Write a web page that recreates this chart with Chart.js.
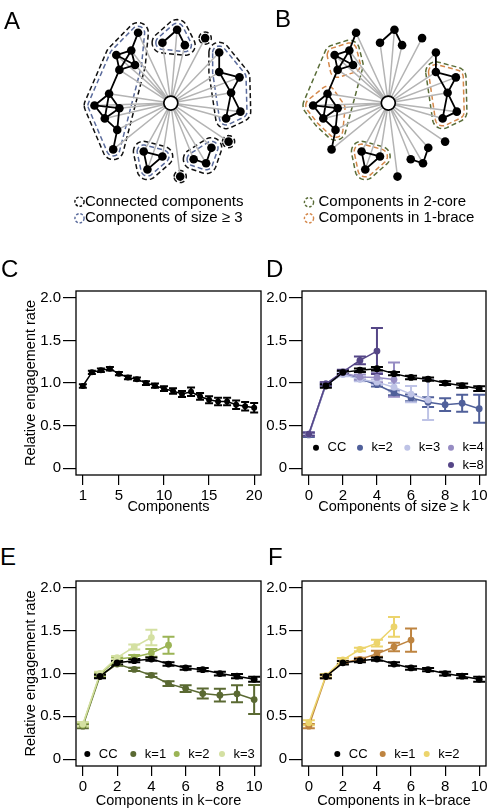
<!DOCTYPE html>
<html><head><meta charset="utf-8">
<script src="https://cdn.jsdelivr.net/npm/chart.js@4.4.1/dist/chart.umd.min.js"></script>
<style>
html,body{margin:0;padding:0;background:#fff;}
body{width:490px;height:810px;position:relative;overflow:hidden;font-family:"Liberation Sans",Arial,Helvetica,sans-serif;}
canvas{position:absolute;}
.lab{position:absolute;font-size:24px;line-height:24px;color:#000;}
</style></head><body>
<canvas id="cA" width="270" height="240" style="left:0;top:0"></canvas>
<canvas id="cB" width="220" height="240" style="left:270px;top:0"></canvas>
<canvas id="cC" width="265" height="245" style="left:0;top:280px"></canvas>
<canvas id="cD" width="240" height="245" style="left:250px;top:280px"></canvas>
<canvas id="cE" width="265" height="240" style="left:0;top:570px"></canvas>
<canvas id="cF" width="240" height="240" style="left:250px;top:570px"></canvas>
<div class="lab" style="left:4px;top:9px">A</div>
<div class="lab" style="left:275px;top:7px">B</div>
<div class="lab" style="left:1px;top:257px">C</div>
<div class="lab" style="left:266px;top:257px">D</div>
<div class="lab" style="left:0px;top:545px">E</div>
<div class="lab" style="left:268px;top:545px">F</div>
<script>
// ================= DATA =================
// Panels A/B: ego network layout (node positions relative to the ego node)
const nodeX = [-35,-42.3,-58.3,-38.3,-55,-66,-81.6,-55,-70.6,-57.3,-61.6, 6.7,-9,15, 36.7, 51.7,51.7,73.4,64.4,74.4,59, 61.7, 43.4,24.4,37.7, 10, -29,-9,-25];
const nodeY = [-75.7,-56.7,-51.7,-41,-35.7,-10,2.6,5.6,16.6,29,50, -79,-65,-62.4, -70, -54.4,-33.4,-27.7,-11,9.3,16.6, 41.6, 48.3,60.6,65, 79.3, 52.3,57.6,71.6];
const edgeFrom = [0,1,1,1,2,2,3,4,5,5,5,6,6,7,8,7,9, 11,11, 15,16,16,17,18,18,19, 22,23, 26,26,27];
const edgeTo   = [1,2,3,4,3,4,4,5,6,7,8,7,8,8,9,9,10, 12,13, 16,17,18,18,19,20,20, 24,24, 27,28,28];
const groupsConnected = [[0,1,2,3,4,5,6,7,8,9,10],[11,12,13],[14],[15,16,17,18,19,20],[21],[22,23,24],[25],[26,27,28]];
const groupsSize3 = [[0,1,2,3,4,5,6,7,8,9,10],[11,12,13],[15,16,17,18,19,20],[22,23,24],[26,27,28]];
const groups2core = [[1,2,3,4,5,6,7,8,9],[16,17,18,19,20],[26,27,28]];
const groups1brace = [[1,2,3,4],[5,6,7,8,9],[16,17,18,19,20],[26,27,28]];
const legendA = ['Connected components','Components of size \u2265 3'];
const legendB = ['Components in 2-core','Components in 1-brace'];

// Panel C
const compC = [1,2,3,4,5,6,7,8,9,10,11,12,13,14,15,16,17,18,19,20];
const rateC = [0.965,1.125,1.15,1.168,1.11,1.065,1.045,0.999,0.969,0.933,0.907,0.87,0.897,0.842,0.803,0.783,0.783,0.745,0.727,0.71];
const errC  = [0.02,0.02,0.02,0.02,0.02,0.02,0.02,0.022,0.025,0.028,0.032,0.035,0.05,0.04,0.04,0.045,0.045,0.05,0.05,0.055];
const ticksC = [1,5,10,15,20];

// Panels D-F
const compCC = [1,2,3,4,5,6,7,8,9,10];
const rateCC = [0.965,1.125,1.15,1.168,1.11,1.065,1.045,0.999,0.969,0.933];
const errCC  = [0.02,0.02,0.02,0.02,0.02,0.02,0.02,0.022,0.025,0.028];
const compK = [0,1,2,3,4,5,6,7,8,9,10];
// D: components of size >= k
const rateSize2 = [0.39,0.975,1.11,1.05,0.98,0.885,0.825,0.775,0.745,0.762,0.698];
const errSize2  = [0.025,0.02,0.02,0.02,0.02,0.028,0.04,0.058,0.075,0.1,0.165];
const rateSize3 = [0.40,0.99,1.10,1.045,1.01,0.95,0.87,0.80];
const errSize3  = [0.02,0.02,0.02,0.025,0.03,0.05,0.095,0.235];
const rateSize4 = [0.40,0.99,1.12,1.07,1.065,1.04];
const errSize4  = [0.02,0.02,0.02,0.03,0.055,0.2];
const rateSize8 = [0.40,0.99,1.13,1.265,1.375];
const errSize8  = [0.02,0.02,0.025,0.045,0.27];
// E: components in k-core
const rateCore1 = [0.385,0.97,1.11,1.048,0.979,0.882,0.824,0.766,0.747,0.763,0.696];
const errCore1  = [0.025,0.02,0.02,0.02,0.02,0.028,0.04,0.058,0.075,0.1,0.17];
const rateCore2 = [0.40,0.99,1.17,1.19,1.24,1.33];
const errCore2  = [0.02,0.02,0.02,0.025,0.045,0.1];
const rateCore3 = [0.41,1.0,1.185,1.31,1.42];
const errCore3  = [0.025,0.02,0.02,0.03,0.09];
// F: components in k-brace
const rateBrace1 = [0.385,0.965,1.13,1.165,1.23,1.31,1.39];
const errBrace1  = [0.025,0.02,0.02,0.02,0.035,0.05,0.135];
const rateBrace2 = [0.425,0.975,1.16,1.28,1.355,1.545];
const errBrace2  = [0.03,0.02,0.02,0.02,0.04,0.115];
const ticksK = [0,2,4,6,8,10];
const yTicks = [0,0.5,1,1.5,2];
const yTickLabels = ['0','0.5','1.0','1.5','2.0'];

// ================= STYLE / HELPERS =================
const FONT = '"Liberation Sans", Arial, Helvetica, sans-serif';
Chart.defaults.font.family = FONT;
Chart.defaults.color = '#000';

function paddedHull(ids, pad){
  const pts=[];
  ids.forEach(id=>{for(let k=0;k<48;k++){const t=k*Math.PI/24;pts.push([nodeX[id]+pad*Math.cos(t),nodeY[id]+pad*Math.sin(t)]);}});
  pts.sort((a,b)=>a[0]-b[0]||a[1]-b[1]);
  const cr=(o,a,b)=>(a[0]-o[0])*(b[1]-o[1])-(a[1]-o[1])*(b[0]-o[0]);
  const lo=[];for(const p of pts){while(lo.length>=2&&cr(lo[lo.length-2],lo[lo.length-1],p)<=0)lo.pop();lo.push(p);}
  const up=[];for(let i=pts.length-1;i>=0;i--){const p=pts[i];while(up.length>=2&&cr(up[up.length-2],up[up.length-1],p)<=0)up.pop();up.push(p);}
  up.pop();lo.pop();const h=lo.concat(up);h.push(h[0]);
  return h.map(p=>({x:p[0],y:p[1]}));
}
function contourSets(groups, color, pad, padSingle){
  return groups.map(g=>({data:paddedHull(g, g.length===1?padSingle:pad), showLine:true, borderColor:color,
    borderWidth:1.5, borderDash:[5,3], pointRadius:0, tension:0}));
}

const netLegend = {id:'netLegend', afterDraw(chart,args,o){
  const ctx=chart.ctx; ctx.save(); ctx.font='15px '+FONT; ctx.textBaseline='middle'; ctx.textAlign='left';
  o.texts.forEach((t,i)=>{const y=o.y+i*o.dy;
    ctx.setLineDash([2.6,1.8]); ctx.lineWidth=1.4; ctx.strokeStyle=o.colors[i];
    ctx.beginPath(); ctx.arc(o.iconX,y,4.6,0,2*Math.PI); ctx.stroke(); ctx.setLineDash([]);
    ctx.fillStyle='#000'; ctx.fillText(t,o.textX,y);});
  ctx.restore();}};

function networkChart(id, cx, cy, w, h, contours, leg){
  const nodes = nodeX.map((x,i)=>({x, y:nodeY[i]}));
  const edges=[]; edgeFrom.forEach((a,i)=>{const b=edgeTo[i];edges.push({x:nodeX[a],y:nodeY[a]},{x:nodeX[b],y:nodeY[b]},{x:null,y:null});});
  const spokes=[]; nodeX.forEach((x,i)=>{spokes.push({x:0,y:0},{x,y:nodeY[i]},{x:null,y:null});});
  const datasets=[
    {data:[{x:0,y:0}], pointRadius:7, pointBackgroundColor:'#fff', pointBorderColor:'#000', pointBorderWidth:1.7, showLine:false},
    {data:nodes, pointRadius:4.3, pointBackgroundColor:'#000', pointBorderWidth:0, showLine:false},
    {data:edges, showLine:true, borderColor:'#000', borderWidth:1.8, pointRadius:0, spanGaps:false},
    {data:spokes, showLine:true, borderColor:'#b4b4b4', borderWidth:1.5, pointRadius:0, spanGaps:false},
    ...contours
  ];
  new Chart(document.getElementById(id), {type:'scatter', data:{datasets}, plugins:[netLegend],
    options:{responsive:false, animation:false, events:[], layout:{padding:0},
      plugins:{legend:{display:false}, tooltip:{enabled:false}, netLegend:leg},
      scales:{x:{type:'linear', display:false, min:-cx, max:w-cx},
              y:{type:'linear', display:false, min:-cy, max:h-cy, reverse:true}}}});
}

const errorBars = {id:'errorBars', beforeDatasetsDraw(chart,args,o){
  const ctx=chart.ctx, ys=chart.scales.y;
  for(let i=chart.data.datasets.length-1;i>=0;i--){
    const ds=chart.data.datasets[i]; if(!ds.errors) continue;
    const meta=chart.getDatasetMeta(i);
    ctx.save(); ctx.strokeStyle=ds.borderColor; ctx.lineWidth=o.width;
    meta.data.forEach((pt,j)=>{
      const v=ds.data[j].y, e=ds.errors[j];
      const y1=ys.getPixelForValue(v-e), y2=ys.getPixelForValue(v+e);
      ctx.beginPath(); ctx.moveTo(pt.x,y1); ctx.lineTo(pt.x,y2);
      ctx.moveTo(pt.x-o.cap,y1); ctx.lineTo(pt.x+o.cap,y1);
      ctx.moveTo(pt.x-o.cap,y2); ctx.lineTo(pt.x+o.cap,y2); ctx.stroke();
    });
    ctx.restore();
  }}};
const frame = {id:'frame', afterDatasetsDraw(chart){
  const {ctx, chartArea:a}=chart; ctx.save(); ctx.strokeStyle='#000'; ctx.lineWidth=1.3;
  ctx.strokeRect(a.left,a.top,a.right-a.left,a.bottom-a.top); ctx.restore();}};
const inLegend = {id:'inLegend', afterDraw(chart,args,o){
  if(!o.rows) return; const {ctx, chartArea:a}=chart;
  ctx.save(); ctx.font='13px '+FONT; ctx.textBaseline='middle'; ctx.textAlign='left';
  o.rows.forEach(r=>{const y=a.bottom-r.dy;
    r.items.forEach((idx,k)=>{const ds=chart.data.datasets[idx]; const x=a.left+r.xs[k];
      ctx.fillStyle=ds.borderColor; ctx.beginPath(); ctx.arc(x,y,3,0,2*Math.PI); ctx.fill();
      ctx.fillStyle='#000'; ctx.fillText(ds.label,x+o.gap,y);});});
  ctx.restore();}};

function series(label, xs, ys, errs, color, r){
  return {label, data: ys.map((y,i)=>({x:xs[i], y})), errors: errs, showLine:true,
    borderColor:color, backgroundColor:color, pointBackgroundColor:color, pointBorderWidth:0,
    borderWidth:1.5, pointRadius:r, tension:0};
}

function dataChart(id, datasets, c){
  new Chart(document.getElementById(id), {type:'scatter', data:{datasets}, plugins:[errorBars, frame, inLegend],
    options:{responsive:false, animation:false, events:[],
      layout:{padding:{top:c.padTop, right:c.padRight, left:0, bottom:0}},
      plugins:{legend:{display:false}, tooltip:{enabled:false}, errorBars:{cap:c.cap, width:2}, inLegend:c.legend||{}},
      scales:{
        x:{type:'linear', min:c.xmin, max:c.xmax,
           afterBuildTicks:s=>{s.ticks=c.xticks.map(v=>({value:v}));},
           afterFit:s=>{s.height=c.xH;},
           grid:{drawOnChartArea:false, drawTicks:true, tickLength:10, color:'#000', lineWidth:1.2},
           border:{display:false},
           ticks:{color:'#000', font:{size:15}, padding:1.5, maxRotation:0, autoSkip:false},
           title:{display:true, text:c.xtitle, color:'#000', font:{size:14.5}, padding:{top:0,bottom:c.xtPad}}},
        y:{type:'linear', min:-0.08, max:2.08,
           afterBuildTicks:s=>{s.ticks=yTicks.map(v=>({value:v}));},
           afterFit:s=>{s.width=c.yW;},
           grid:{drawOnChartArea:false, drawTicks:true, tickLength:13, color:'#000', lineWidth:1.2},
           border:{display:false},
           ticks:{color:'#000', font:{size:15}, padding:2, autoSkip:false, callback:v=>yTickLabels[yTicks.indexOf(v)]},
           title:{display:!!c.ytitle, text:c.ytitle||'', color:'#000', font:{size:14.5}, padding:{top:22,bottom:0}}}
      }}});
}

// ================= BUILD =================
networkChart('cA', 173.3, 101.7, 270, 240,
  [...contourSets(groupsSize3,'#5a6b9c',7,7), ...contourSets(groupsConnected,'#111',11,6.5)],
  {texts:legendA, colors:['#111','#5a6b9c'], iconX:79.5, textX:85, y:201.7, dy:16.6});
networkChart('cB', 119, 101.7, 220, 240,
  [...contourSets(groups1brace,'#d4874a',8,8), ...contourSets(groups2core,'#5a6d38',11,11)],
  {texts:legendB, colors:['#5a6d38','#d4874a'], iconX:39, textX:48.5, y:202.3, dy:16});

dataChart('cC', [series('CC', compC, rateC, errC, '#000', 3)],
  {padTop:9, padRight:3, yW:76, xH:50, xmin:0.24, xmax:20.76, xticks:ticksC, xtitle:'Components', xtPad:9,
   ytitle:'Relative engagement rate', cap:4});

dataChart('cD', [
  series('CC', compCC, rateCC, errCC, '#000', 3.4),
  series('k=8', compK, rateSize8, errSize8, '#554687', 3.4),
  series('k=4', compK, rateSize4, errSize4, '#968cc3', 3.4),
  series('k=3', compK, rateSize3, errSize3, '#bec3e6', 3.4),
  series('k=2', compK, rateSize2, errSize2, '#50609a', 3.4)],
  {padTop:9, padRight:1, yW:52, xH:50, xmin:-0.4, xmax:10.4, xticks:ticksK, xtitle:'Components of size \u2265 k', xtPad:9, cap:6,
   legend:{gap:11.5, rows:[{dy:27.3, items:[0,4,3,2], xs:[14,58,105.3,149]},{dy:10, items:[1], xs:[149]}]}});

dataChart('cE', [
  series('CC', compCC, rateCC, errCC, '#000', 3.4),
  series('k=3', compK, rateCore3, errCore3, '#d4e0a2', 3.4),
  series('k=2', compK, rateCore2, errCore2, '#9bb455', 3.4),
  series('k=1', compK, rateCore1, errCore1, '#5a6932', 3.4)],
  {padTop:11, padRight:3, yW:76, xH:44, xmin:-0.4, xmax:10.4, xticks:ticksK, xtitle:'Components in k\u2212core', xtPad:0,
   ytitle:'Relative engagement rate', cap:6,
   legend:{gap:11.5, rows:[{dy:12, items:[0,3,2,1], xs:[11.3,57.3,100.7,146]}]}});

dataChart('cF', [
  series('CC', compCC, rateCC, errCC, '#000', 3.4),
  series('k=2', compK, rateBrace2, errBrace2, '#ecd46c', 3.4),
  series('k=1', compK, rateBrace1, errBrace1, '#be8440', 3.4)],
  {padTop:11, padRight:1, yW:52, xH:44, xmin:-0.4, xmax:10.4, xticks:ticksK, xtitle:'Components in k\u2212brace', xtPad:0, cap:6,
   legend:{gap:11.5, rows:[{dy:12, items:[0,2,1], xs:[35.3,80.7,124.7]}]}});
</script>
</body></html>
